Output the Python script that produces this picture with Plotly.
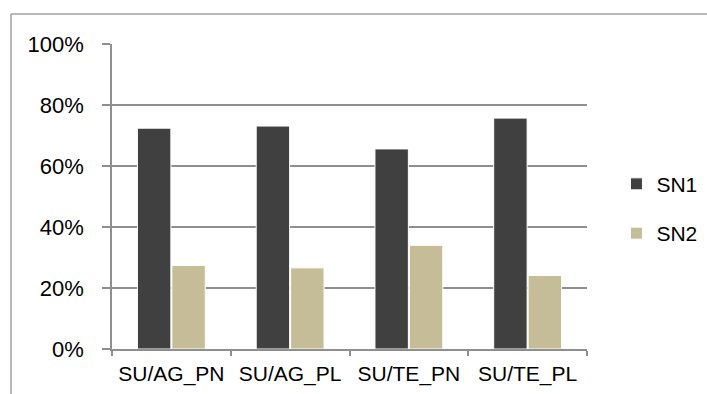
import plotly.graph_objects as go

categories = ["SU/AG_PN", "SU/AG_PL", "SU/TE_PN", "SU/TE_PL"]
sn1_values = [0.724, 0.731, 0.656, 0.757]
sn2_values = [0.274, 0.266, 0.340, 0.241]
series_names = ["SN1", "SN2"]
series_colors = ["#404040", "#c4bd97"]
y_tick_vals = [0, 0.2, 0.4, 0.6, 0.8, 1.0]
y_tick_text = ["0%", "20%", "40%", "60%", "80%", "100%"]

FONT = "Liberation Sans, Arial, sans-serif"
GRID = "#8f8f8f"

fig = go.Figure()
for name, vals, col in zip(series_names, [sn1_values, sn2_values], series_colors):
    fig.add_trace(go.Bar(
        x=categories, y=vals, name=name, legendgroup=name,
        marker=dict(color=col, line=dict(color="white", width=1)),
    ))

fig.update_layout(
    width=707, height=394,
    margin=dict(l=112, r=120, t=44, b=45, autoexpand=False),
    paper_bgcolor="white", plot_bgcolor="white",
    barmode="group", bargap=0.42, bargroupgap=0.03,
    font=dict(family=FONT, size=21, color="black"),
    showlegend=True,
    legend=dict(
        x=1.062, xanchor="left", y=0.46, yanchor="middle",
        font=dict(family=FONT, size=21, color="black"),
        traceorder="grouped", tracegroupgap=19,
        bgcolor="rgba(0,0,0,0)",
    ),
    xaxis=dict(
        showline=True, linecolor=GRID, linewidth=1.5,
        ticks="outside", ticklen=5, tickcolor=GRID, tickwidth=1.5,
        tickson="boundaries", showgrid=False, ticklabelstandoff=5,
        tickfont=dict(family=FONT, size=21),
    ),
    yaxis=dict(
        range=[0, 1.0], tickvals=y_tick_vals, ticktext=y_tick_text,
        showgrid=True, gridcolor=GRID, gridwidth=1.5,
        showline=True, linecolor=GRID, linewidth=1.5,
        ticks="outside", ticklen=8, tickcolor=GRID, tickwidth=1.5,
        zeroline=False, ticklabelstandoff=14,
        tickfont=dict(family=FONT, size=22),
    ),
    shapes=[
        dict(type="line", xref="paper", yref="paper", x0=-0.2126, x1=-0.2126, y0=-0.3, y1=1.098,
             line=dict(color="#a0a0a0", width=1.5)),
        dict(type="line", xref="paper", yref="paper", x0=-0.2126, x1=1.3, y0=1.098, y1=1.098,
             line=dict(color="#a0a0a0", width=1.5)),
    ],
)

fig.write_html("out.html", config={"displayModeBar": False},
               post_script="document.body.style.margin='0';document.body.style.padding='0';")
